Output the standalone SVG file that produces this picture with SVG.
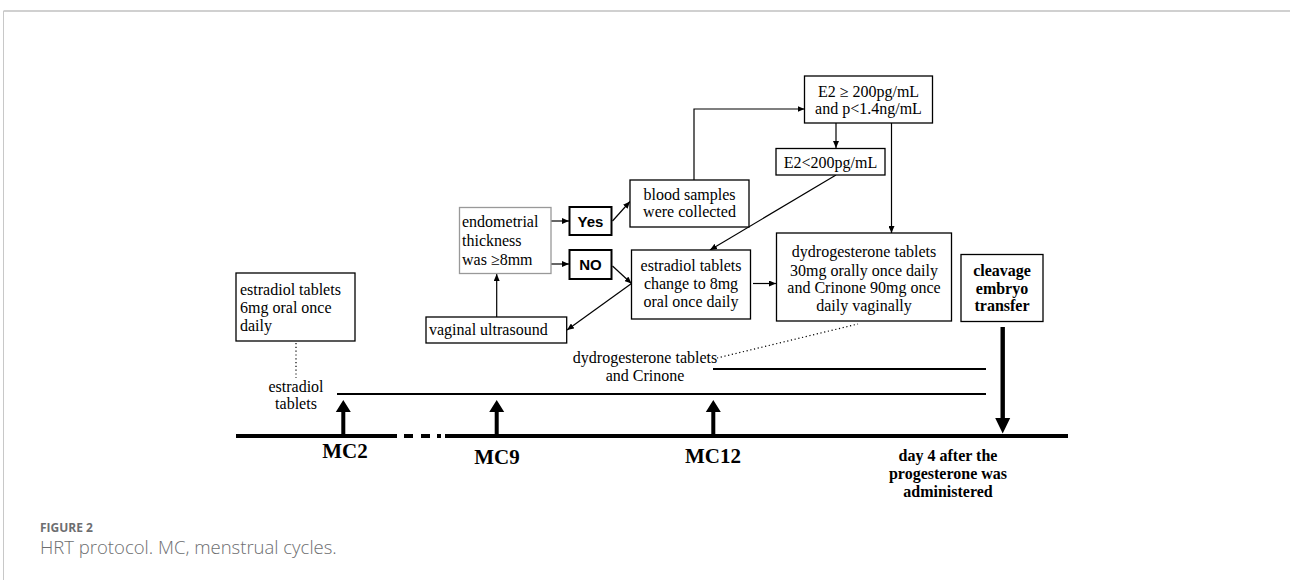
<svg xmlns="http://www.w3.org/2000/svg" width="1290" height="580" viewBox="0 0 1290 580">
<defs>
<marker id="ah" markerUnits="userSpaceOnUse" markerWidth="8" markerHeight="6" refX="7" refY="3" orient="auto">
<path d="M0,0 L7,3 L0,6 z" fill="#000"/>
</marker>
</defs>
<style>
.box{fill:#fff;stroke:#000;stroke-width:1.3}
.gbox{fill:#fff;stroke:#999;stroke-width:1.3}
.tbox{fill:#fff;stroke:#000;stroke-width:2}
.t{font-family:"Liberation Serif","Times New Roman",serif;font-size:16px;fill:#000}
.c{text-anchor:middle}
.b{font-weight:bold}
.s{font-family:"Liberation Sans",Arial,sans-serif;font-size:15px;font-weight:bold;fill:#000;text-anchor:middle}
.mc{font-family:"Liberation Serif","Times New Roman",serif;font-size:21px;font-weight:bold;fill:#000;text-anchor:middle}
.con{fill:none;stroke:#000;stroke-width:1.2;marker-end:url(#ah)}
.dot{fill:none;stroke:#000;stroke-width:1.2;stroke-dasharray:1.2 2.6}
.tl{stroke:#000;stroke-width:4;fill:none}
.bar{stroke:#000;stroke-width:2;fill:none}
.cap{font-family:"Open Sans","Noto Sans",sans-serif;fill:#6d6e70}
</style>
<rect x="0" y="0" width="1290" height="580" fill="#fff"/>
<g id="frame">
<line x1="3.5" y1="11" x2="1290" y2="11" stroke="#d0d0d0" stroke-width="2"/>
<line x1="3.5" y1="11" x2="3.5" y2="580" stroke="#c8c8c8" stroke-width="1"/>
</g>
<g id="connectors">
<line class="con" x1="551" y1="221" x2="569" y2="221"/>
<line class="con" x1="551" y1="264" x2="569" y2="264"/>
<line class="con" x1="612.5" y1="221" x2="630" y2="201.5"/>
<polyline class="con" points="694,180 694,109 804.5,109"/>
<line class="con" x1="836" y1="123" x2="836" y2="148"/>
<line class="con" x1="891.5" y1="123" x2="891.5" y2="233"/>
<line class="con" x1="836" y1="175" x2="710" y2="250"/>
<line class="con" x1="612.5" y1="266" x2="631.5" y2="283.5"/>
<line class="con" x1="631.5" y1="283.5" x2="567" y2="330"/>
<line class="con" x1="496.7" y1="317" x2="496.7" y2="274"/>
<line class="con" x1="753" y1="283.5" x2="776" y2="283.5"/>
<line class="dot" x1="296" y1="343" x2="296" y2="378"/>
<line class="dot" x1="717" y1="358" x2="858" y2="324"/>
</g>
<g id="timeline">
<line class="bar" x1="337" y1="394" x2="986" y2="394"/>
<line class="bar" x1="713" y1="369" x2="986" y2="369"/>
<line class="tl" x1="236" y1="436" x2="397" y2="436"/>
<line class="tl" x1="404" y1="436" x2="413" y2="436"/>
<line class="tl" x1="421" y1="436" x2="430" y2="436"/>
<line class="tl" x1="437" y1="436" x2="441" y2="436"/>
<line class="tl" x1="445" y1="436" x2="1068" y2="436"/>
<path d="M341.3,434 V412 H335.8 L343.3,400 L350.8,412 H345.3 V434 z" fill="#000"/>
<path d="M494.7,434 V412 H489.2 L496.7,400 L504.2,412 H498.7 V434 z" fill="#000"/>
<path d="M711.3,434 V412 H705.8 L713.3,400 L720.8,412 H715.3 V434 z" fill="#000"/>
<path d="M1000.5,327 V418 H995.2 L1002.7,433.5 L1010.2,418 H1004.9 V327 z" fill="#000"/>
</g>
<g id="n-estradiol6">
<rect class="box" x="236" y="273" width="119" height="68"/>
<text class="t" x="240" y="295">estradiol tablets</text>
<text class="t" x="240" y="313">6mg oral once</text>
<text class="t" x="240" y="331">daily</text>
</g>
<g id="n-vaginal">
<rect class="box" x="426" y="317" width="140.7" height="26"/>
<text class="t" x="429" y="335">vaginal ultrasound</text>
</g>
<g id="n-endo">
<rect class="gbox" x="459.5" y="207.5" width="91.5" height="66"/>
<text class="t" x="462" y="227">endometrial</text>
<text class="t" x="462" y="246">thickness</text>
<text class="t" x="462" y="265">was ≥8mm</text>
</g>
<g id="n-yes">
<rect class="tbox" x="569.5" y="207" width="42" height="28"/>
<text class="s" x="590.5" y="227">Yes</text>
</g>
<g id="n-no">
<rect class="tbox" x="569.5" y="250" width="42" height="29"/>
<text class="s" x="590.5" y="270">NO</text>
</g>
<g id="n-blood">
<rect class="box" x="630" y="180" width="119" height="47"/>
<text class="t c" x="689.5" y="200">blood samples</text>
<text class="t c" x="689.5" y="217">were collected</text>
</g>
<g id="n-e2ge">
<rect class="box" x="804.5" y="76" width="128" height="47"/>
<text class="t c" x="868.5" y="97">E2 ≥ 200pg/mL</text>
<text class="t c" x="868.5" y="113.5">and p&lt;1.4ng/mL</text>
</g>
<g id="n-e2lt">
<rect class="box" x="776" y="148.5" width="109" height="26.5"/>
<text class="t c" x="830.5" y="168">E2&lt;200pg/mL</text>
</g>
<g id="n-estradiol8">
<rect class="box" x="631.5" y="250" width="119" height="69"/>
<text class="t c" x="691" y="271">estradiol tablets</text>
<text class="t c" x="691" y="289">change to 8mg</text>
<text class="t c" x="691" y="307">oral once daily</text>
</g>
<g id="n-dydro">
<rect class="box" x="776.5" y="233" width="175" height="88"/>
<text class="t c" x="864" y="257">dydrogesterone tablets</text>
<text class="t c" x="864" y="275.5">30mg orally once daily</text>
<text class="t c" x="864" y="293">and Crinone 90mg once</text>
<text class="t c" x="864" y="311">daily vaginally</text>
</g>
<g id="n-cleavage">
<rect class="box" x="961" y="254.5" width="82" height="67"/>
<text class="t c b" x="1002" y="276">cleavage</text>
<text class="t c b" x="1002" y="293.5">embryo</text>
<text class="t c b" x="1002" y="311">transfer</text>
</g>
<g id="labels">
<text class="t c" x="296" y="392">estradiol</text>
<text class="t c" x="296" y="409">tablets</text>
<text class="t c" x="645" y="363">dydrogesterone tablets</text>
<text class="t c" x="645" y="381">and Crinone</text>
<text class="mc" x="345" y="458">MC2</text>
<text class="mc" x="497" y="464">MC9</text>
<text class="mc" x="713" y="463">MC12</text>
<text class="t c b" x="948" y="461">day 4 after the</text>
<text class="t c b" x="948" y="479">progesterone was</text>
<text class="t c b" x="948" y="497">administered</text>
</g>
<g id="caption">
<text class="cap" x="40" y="532" font-size="12" font-weight="bold">FIGURE 2</text>
<text class="cap" x="40" y="554" font-size="18.5" font-weight="300">HRT protocol. MC, menstrual cycles.</text>
</g>
</svg>
